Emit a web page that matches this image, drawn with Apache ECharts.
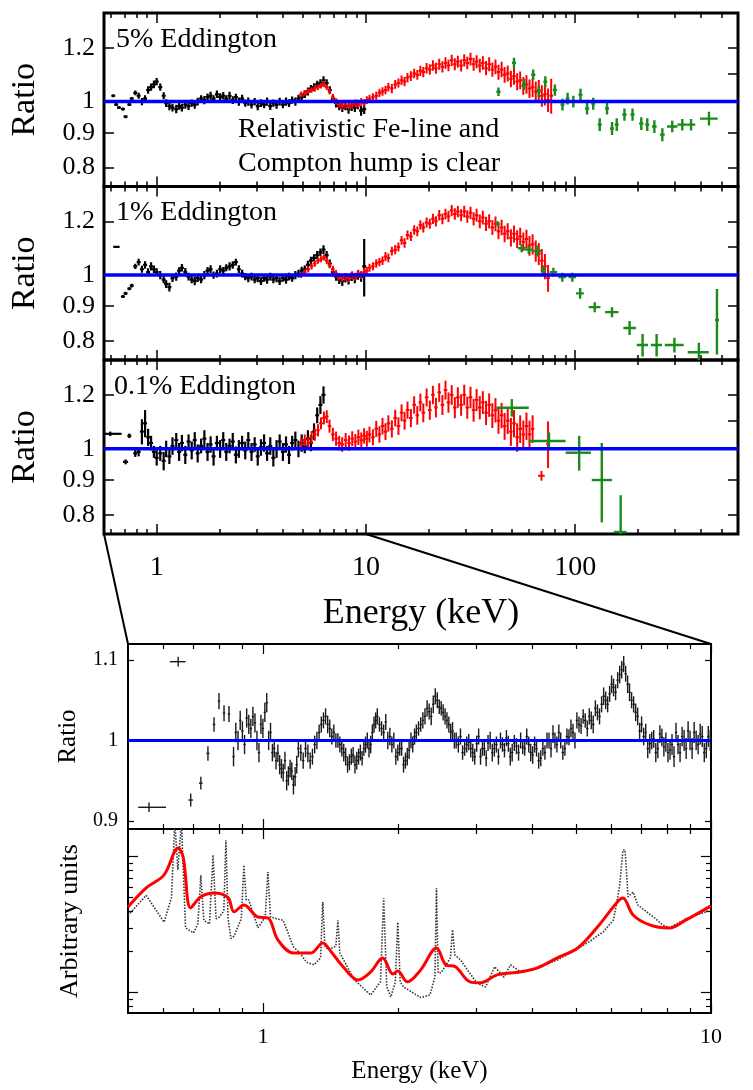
<!DOCTYPE html>
<html>
<head>
<meta charset="utf-8">
<script src="https://cdn.jsdelivr.net/npm/echarts@6/dist/echarts.min.js"></script>
<style>
html, body { margin: 0; background: #fff; }
#main { width: 753px; height: 1090px; }
</style>
</head>
<body>
<div id="main"></div>
<script>
var FONT = '"Liberation Serif", "Times New Roman", serif';

// ---- top panels: soft band (black), energies in keV
var softE = [0.62, 0.64, 0.66, 0.69, 0.71, 0.74, 0.76, 0.79, 0.82, 0.85, 0.88, 0.91, 0.94, 0.97, 1.00, 1.04, 1.08, 1.11, 1.15, 1.19,
    1.24, 1.28, 1.32, 1.37, 1.42, 1.47, 1.52, 1.57, 1.63, 1.69, 1.75, 1.81, 1.87, 1.94, 2.01, 2.08, 2.15, 2.23, 2.31, 2.39,
    2.47, 2.56, 2.65, 2.74, 2.84, 2.94, 3.04, 3.15, 3.26, 3.37, 3.49, 3.61, 3.74, 3.87, 4.01, 4.15, 4.29, 4.44, 4.60, 4.76,
    4.93, 5.10, 5.28, 5.46, 5.65, 5.85, 6.06, 6.27, 6.49, 6.72, 6.95, 7.20, 7.45, 7.71, 7.98, 8.26, 8.55, 8.85, 9.16, 9.48, 9.81];

var soft5 = [1.02, 0.99, 0.98, 0.975, 0.95, 0.99, 1.01, 1.03, 1.02, 1.0, 1.01, 1.04, 1.05, 1.06, 1.07, 1.05, 1.02, 0.995, 0.985, 0.98,
    0.975, 0.985, 0.98, 0.99, 0.985, 0.995, 0.99, 1.0, 1.01, 1.005, 1.015, 1.02, 1.01, 1.025, 1.015, 1.02, 1.01, 1.02, 1.005, 1.015,
    1.0, 1.01, 0.995, 1.0, 0.99, 1.0, 0.985, 0.995, 0.99, 1.0, 0.985, 0.995, 0.99, 1.0, 0.99, 1.0, 0.995, 1.005, 1.0, 1.01,
    1.015, 1.025, 1.035, 1.045, 1.05, 1.06, 1.065, 1.075, 1.065, 1.04, 1.01, 0.995, 0.985, 0.98, 0.985, 0.975, 0.985, 0.98, 0.99, 0.97, 0.975];
var soft5Err = [.005, .005, .005, .005, .005, .005, .006, .008, .01, .012, .012, .013, .013, .014, .013, .013, .012, .013, .014, .013,
    .014, .012, .013, .014, .013, .012, .014, .013, .012, .014, .013, .014, .012, .013, .014, .013, .012, .014, .013, .012,
    .014, .013, .012, .014, .013, .012, .014, .013, .012, .014, .013, .012, .014, .013, .012, .014, .013, .012, .014, .013,
    .014, .013, .014, .013, .014, .013, .014, .015, .014, .013, .014, .015, .014, .015, .014, .015, .016, .015, .016, .017, .016];

var soft1 = [null, null, null, 0.93, 0.94, 0.955, 0.965, 1.03, 1.045, 1.02, 1.035, 1.01, 1.03, 1.02, 1.01, 1.0, 0.985, 0.97, 0.96, 0.99,
    0.995, 1.015, 1.025, 1.01, 0.995, 0.985, 0.98, 0.99, 0.985, 1.0, 1.015, 1.02, 1.0, 1.005, 1.02, 1.015, 1.025, 1.03, 1.035, 1.045,
    1.02, 1.005, 0.995, 0.99, 0.995, 0.985, 0.99, 0.98, 0.99, 0.985, 0.995, 0.985, 0.99, 0.98, 0.99, 0.985, 0.995, 0.99, 1.0, 1.005,
    1.015, 1.02, 1.035, 1.05, 1.06, 1.07, 1.08, 1.09, 1.07, 1.04, 1.01, 0.995, 0.985, 0.98, 0.99, 0.985, 0.995, 0.99, 1.0, 0.995, 1.03];
var soft1Err = [.005, .004, .005, .005, .005, .005, .006, .009, .012, .012, .013, .013, .014, .013, .013, .014, .012, .013, .014, .013,
    .014, .012, .013, .014, .013, .012, .014, .013, .012, .014, .013, .014, .012, .013, .014, .013, .012, .014, .013, .012,
    .014, .013, .012, .014, .013, .012, .014, .013, .012, .014, .013, .012, .014, .013, .012, .014, .013, .012, .014, .013,
    .014, .013, .015, .014, .013, .015, .014, .016, .015, .014, .015, .014, .015, .016, .015, .016, .015, .017, .016, .017, .1];

var soft01 = [null, null, null, null, null, 1.045, null, 0.985, 0.99, 1.06, 1.09, 1.04, 1.02, 0.99, 0.97, 0.985, 0.96, 1.0, 0.975, 1.01,
    1.03, 0.99, 1.02, 0.98, 1.025, 0.995, 1.03, 0.985, 1.01, 1.035, 0.99, 1.015, 0.975, 1.02, 1.0, 1.03, 0.99, 1.01, 1.025, 0.98,
    1.0, 1.02, 0.995, 1.03, 0.99, 1.015, 0.975, 1.005, 1.02, 0.985, 1.01, 0.97, 1.0, 1.025, 0.99, 1.015, 0.98, 1.02, 1.03, 1.0,
    1.02, 1.01, 1.035, 1.02, 1.06, 1.12, 1.16, 1.2, null, null, null, null, null, null, null, null, null, null, null, null, null];
var soft01Err = [.01, .01, .01, .01, .008, .008, .01, .012, .015, .045, .05, .03, .025, .02, .025, .025, .03, .028, .025, .03,
    .025, .03, .028, .03, .025, .03, .028, .03, .025, .03, .03, .028, .03, .025, .03, .028, .03, .025, .03, .028,
    .03, .025, .03, .028, .03, .025, .03, .028, .03, .025, .03, .028, .03, .025, .03, .028, .03, .025, .03, .028,
    .03, .025, .03, .028, .03, .03, .035, .035, .03, .03, .03, .03, .03, .03, .03, .03, .03, .03, .03, .03, .03];

// wide-binned soft points: [E, ratio, err, Elo, Ehi]
var soft1Wide = [[0.64, 1.10, 0.004, 0.62, 0.665]];
var soft01Wide = [[0.6, 1.052, 0.008, 0.565, 0.68], [0.71, 0.957, 0.008, 0.69, 0.73]];

// ---- top panels: hard band (red)
var hardE = [4.9, 5.1, 5.3, 5.5, 5.7, 5.9, 6.1, 6.3, 6.5, 6.7, 6.95, 7.2, 7.45, 7.7, 8.0, 8.3, 8.6, 8.9, 9.2, 9.5,
    9.8, 10.1, 10.4, 10.8, 11.2, 11.6, 12.0, 12.4, 12.8, 13.3, 13.8, 14.3, 14.8, 15.3, 15.8, 16.4, 17.0, 17.6, 18.2, 18.8,
    19.5, 20.2, 20.9, 21.6, 22.4, 23.2, 24.0, 24.8, 25.7, 26.6, 27.5, 28.5, 29.5, 30.5, 31.6, 32.7, 33.8, 35.0, 36.2, 37.5,
    38.8, 40.2, 41.6, 43.0, 44.5, 46.0, 47.6, 49.3, 51.0, 52.8, 54.6, 56.5, 58.5, 60.5, 62.6, 64.8, 67.0, 69.3, 71.7, 74.2, 76.8];

var hard5 = [1.025, 1.03, 1.035, 1.04, 1.045, 1.05, 1.055, 1.06, 1.05, 1.035, 1.015, 1.0, 0.99, 0.985, 0.99, 0.985, 0.99, 0.995, 0.99, 1.0,
    0.995, 1.005, 1.01, 1.015, 1.02, 1.03, 1.035, 1.04, 1.05, 1.045, 1.06, 1.065, 1.075, 1.07, 1.085, 1.09, 1.1, 1.095, 1.11, 1.105,
    1.12, 1.115, 1.13, 1.12, 1.135, 1.125, 1.14, 1.13, 1.15, 1.135, 1.145, 1.13, 1.15, 1.14, 1.155, 1.135, 1.145, 1.13, 1.14, 1.12,
    1.135, 1.115, 1.125, 1.105, 1.115, 1.095, 1.1, 1.08, 1.09, 1.07, 1.075, 1.055, 1.06, 1.045, 1.05, 1.035, 1.04, 1.02, 1.025, 1.005, 1.02];
var hard5Err = [.01, .01, .01, .01, .01, .01, .01, .01, .01, .01, .011, .011, .011, .011, .011, .011, .012, .012, .012, .012,
    .013, .013, .013, .014, .014, .014, .015, .015, .015, .016, .016, .016, .017, .017, .017, .018, .018, .018, .019, .019,
    .02, .02, .02, .021, .021, .021, .022, .022, .022, .023, .023, .023, .024, .024, .025, .025, .025, .026, .026, .027,
    .027, .027, .028, .028, .029, .029, .03, .03, .031, .031, .032, .032, .033, .033, .034, .035, .036, .037, .038, .04, .06];

var hard1 = [1.0, 1.01, 1.02, 1.03, 1.04, 1.05, 1.055, 1.062, 1.05, 1.035, 1.02, 1.005, 0.995, 0.99, 0.995, 0.99, 1.0, 0.995, 1.005, 1.0,
    1.01, 1.015, 1.025, 1.03, 1.04, 1.045, 1.05, 1.065, 1.06, 1.085, 1.09, 1.1, 1.125, 1.115, 1.145, 1.14, 1.165, 1.16, 1.185, 1.175,
    1.195, 1.19, 1.21, 1.2, 1.225, 1.21, 1.23, 1.22, 1.245, 1.23, 1.24, 1.225, 1.24, 1.22, 1.235, 1.21, 1.225, 1.2, 1.215, 1.19,
    1.2, 1.175, 1.19, 1.16, 1.175, 1.15, 1.16, 1.135, 1.15, 1.13, 1.14, 1.12, 1.13, 1.105, 1.11, 1.085, 1.075, 1.05, 1.03, 0.99, null];
var hard1Err = [.01, .01, .011, .011, .011, .011, .011, .011, .012, .012, .012, .012, .012, .012, .012, .012, .013, .013, .013, .013,
    .014, .014, .014, .014, .015, .015, .015, .016, .016, .016, .017, .017, .017, .018, .018, .018, .019, .019, .019, .02,
    .02, .02, .021, .021, .022, .022, .022, .023, .023, .024, .024, .025, .025, .026, .026, .027, .027, .028, .028, .029,
    .029, .03, .03, .031, .031, .032, .032, .033, .033, .034, .034, .035, .036, .037, .038, .039, .04, .042, .044, .045, .05];

var hard01 = [1.015, 1.03, 1.02, 1.04, 1.05, 1.065, 1.09, 1.11, 1.115, 1.08, 1.05, 1.035, 1.02, 1.015, 1.03, 1.02, 1.035, 1.025, 1.04, 1.03,
    1.045, 1.035, 1.05, 1.04, 1.07, 1.05, 1.08, 1.06, 1.09, 1.07, 1.11, 1.08, 1.13, 1.1, 1.14, 1.11, 1.16, 1.12, 1.17, 1.13,
    1.19, 1.14, 1.2, 1.15, 1.21, 1.16, 1.22, 1.17, 1.2, 1.15, 1.19, 1.16, 1.2, 1.15, 1.19, 1.14, 1.18, 1.15, 1.17, 1.13,
    1.16, 1.12, 1.14, 1.1, 1.12, 1.08, 1.1, 1.06, 1.09, 1.04, 1.07, 1.05, 1.08, 1.05, 1.07, null, null, null, null, 1.017, null];
var hard01Err = [.02, .02, .02, .022, .022, .022, .022, .024, .024, .024, .024, .025, .025, .025, .025, .026, .026, .026, .027, .027,
    .027, .028, .028, .028, .029, .029, .03, .03, .03, .031, .031, .032, .032, .033, .033, .034, .034, .035, .035, .036,
    .036, .037, .037, .038, .038, .039, .039, .04, .04, .041, .041, .042, .042, .043, .043, .044, .044, .045, .045, .046,
    .046, .047, .047, .048, .048, .049, .049, .05, .05, .05, .05, .05, .05, .05, .05, .05, .05, .05, .05, .08, .05];
var hard01Wide = [[69.0, 0.913, 0.015, 66.5, 71.5]];

// ---- top panels: BAT points (green) [E, ratio, err, Elo, Ehi]
var bat5 = [[43, 1.034, 0.015, 42, 44], [51, 1.14, 0.02, 50, 52], [57, 1.06, 0.02, 56, 58], [63, 1.095, 0.02, 62, 64.5],
    [67, 1.035, 0.02, 66, 68], [72, 1.07, 0.02, 71, 73], [80, 1.04, 0.02, 79, 81.5], [87, 0.99, 0.02, 85.5, 88.5],
    [92, 1.01, 0.02, 90.5, 93.5], [98, 1.0, 0.02, 96, 100], [106, 1.024, 0.02, 104, 108], [114, 0.977, 0.02, 112, 116],
    [122, 0.993, 0.02, 120, 124], [131, 0.925, 0.02, 129, 134], [142, 0.977, 0.02, 139, 145], [150, 0.913, 0.02, 147, 153],
    [158, 0.925, 0.02, 155, 161], [172, 0.957, 0.02, 168, 176], [188, 0.957, 0.02, 184, 192], [207, 0.928, 0.02, 202, 212],
    [221, 0.925, 0.02, 216, 226], [239, 0.919, 0.02, 233, 245], [261, 0.894, 0.02, 254, 268], [291, 0.919, 0.018, 275, 308],
    [325, 0.925, 0.018, 308, 343], [358, 0.925, 0.018, 343, 375], [436, 0.944, 0.022, 395, 480]];
var bat1 = [[42.7, 1.19, 0.01, 42, 43.5], [55.5, 1.095, 0.015, 53.2, 58], [60, 1.09, 0.015, 57.5, 62.7], [66, 1.085, 0.02, 63, 69],
    [70.5, 1.017, 0.015, 68.5, 72.5], [78.7, 1.01, 0.015, 75.5, 82], [86.8, 0.993, 0.015, 83, 90.5], [96.9, 0.993, 0.015, 93, 101],
    [105.6, 0.94, 0.017, 101, 110], [124, 0.897, 0.015, 116, 132], [150, 0.882, 0.015, 139, 161], [182, 0.836, 0.02, 170, 195],
    [210, 0.789, 0.03, 197, 223], [245, 0.789, 0.03, 230, 260], [298, 0.789, 0.02, 268, 330], [390, 0.77, 0.025, 345, 435],
    [476, 0.859, 0.095, 470, 482]];
var bat01 = [[49.8, 1.149, 0.034, 42, 60], [75, 1.027, 0.03, 60, 90], [104.5, 0.987, 0.058, 90, 119],
    [134, 0.9, 0.12, 120, 150], [165, 0.755, 0.1, 153, 176]];

// ---- zoomed ratio panel (0.5-10 keV)
var zoomWide = [[0.557, 0.917, 0.006, 0.527, 0.608], [0.647, 1.098, 0.006, 0.62, 0.672], [0.69, 0.926, 0.008, 0.682, 0.698],
    [0.727, 0.947, 0.008, 0.72, 0.734], [0.754, 0.984, 0.009, 0.748, 0.76], [0.778, 1.02, 0.009, 0.773, 0.783],
    [0.798, 1.049, 0.01, 0.793, 0.803], [0.819, 1.034, 0.01, 0.814, 0.824], [0.84, 1.033, 0.01, 0.835, 0.845]];
var zoomE = [0.86, 0.88, 0.90, 0.92, 0.94, 0.96, 0.98, 1.00, 1.02, 1.04, 1.06, 1.08, 1.10, 1.12, 1.14, 1.16, 1.18, 1.20, 1.23, 1.26,
    1.29, 1.32, 1.35, 1.38, 1.41, 1.44, 1.47, 1.50, 1.53, 1.56, 1.59, 1.62, 1.65, 1.68, 1.71, 1.74, 1.77, 1.80, 1.84, 1.88,
    1.92, 1.96, 2.00, 2.04, 2.08, 2.12, 2.16, 2.20, 2.25, 2.30, 2.35, 2.40, 2.45, 2.50, 2.55, 2.60, 2.65, 2.70, 2.76, 2.82,
    2.88, 2.94, 3.00, 3.06, 3.12, 3.18, 3.25, 3.32, 3.39, 3.46, 3.53, 3.60, 3.68, 3.76, 3.84, 3.92, 4.00, 4.08, 4.17, 4.26,
    4.35, 4.44, 4.53, 4.62, 4.72, 4.82, 4.92, 5.02, 5.13, 5.24, 5.35, 5.46, 5.58, 5.70, 5.82, 5.94, 6.06, 6.19, 6.32, 6.45,
    6.58, 6.72, 6.86, 7.00, 7.15, 7.30, 7.45, 7.61, 7.77, 7.93, 8.10, 8.27, 8.44, 8.62, 8.80, 8.98, 9.17, 9.36, 9.56, 9.76, 9.96];
var zoomR = [0.98, 1.0, 1.012, 1.028, 1.015, 1.022, 0.985, 1.015, 1.047, 1.01, 0.99, 0.984, 0.965, 0.975, 0.956, 0.962, 0.955, 0.99, 0.975, 0.984,
    0.98, 1.0, 1.02, 1.03, 1.015, 1.01, 1.0, 0.99, 0.98, 0.973, 0.982, 0.975, 0.985, 0.99, 1.0, 0.995, 1.02, 1.03, 1.015, 1.023,
    1.005, 1.0, 0.985, 0.99, 0.975, 0.988, 0.995, 1.01, 1.02, 1.03, 1.036, 1.045, 1.05, 1.04, 1.03, 1.02, 1.012, 1.0, 1.005, 0.99,
    0.998, 0.985, 0.996, 0.98, 0.99, 0.997, 0.985, 0.995, 1.0, 0.988, 0.996, 0.985, 0.993, 1.0, 0.99, 0.995, 0.982, 0.99, 0.978, 0.985,
    1.0, 1.008, 0.995, 1.0, 0.99, 1.004, 1.01, 1.025, 1.018, 1.025, 1.03, 1.02, 1.035, 1.045, 1.05, 1.058, 1.066, 1.075, 1.088, 1.083,
    1.06, 1.045, 1.03, 1.02, 1.01, 0.996, 1.002, 0.99, 1.004, 0.998, 0.988, 0.98, 0.995, 1.005, 0.99, 1.0, 1.01, 0.995, 1.005, 0.99, 1.0];
var zoomErr = [.012, .012, .012, .012, .012, .012, .012, .012, .012, .012, .011, .011, .012, .011, .012, .011, .012, .011, .01, .011,
    .01, .011, .01, .01, .011, .01, .009, .01, .011, .01, .01, .011, .01, .009, .01, .011, .01, .01, .009, .01,
    .011, .01, .01, .009, .01, .011, .01, .01, .009, .01, .01, .011, .01, .009, .01, .01, .011, .01, .01, .009,
    .01, .011, .01, .01, .009, .01, .011, .01, .01, .009, .01, .011, .01, .01, .009, .01, .011, .01, .01, .009,
    .01, .011, .01, .01, .009, .01, .011, .01, .01, .009, .01, .011, .01, .01, .011, .01, .011, .01, .011, .01,
    .011, .01, .011, .01, .011, .012, .011, .012, .011, .012, .012, .013, .012, .012, .013, .012, .013, .012, .013, .012, .013];
// second interleaved set of zoomed-panel bins
var zoomE2 = [0.87, 0.89, 0.91, 0.93, 0.95, 0.97, 0.99, 1.01, 1.03, 1.05, 1.07, 1.09, 1.11, 1.13, 1.15, 1.17, 1.19, 1.215, 1.245, 1.275,
    1.305, 1.335, 1.365, 1.395, 1.425, 1.455, 1.485, 1.515, 1.545, 1.575, 1.605, 1.635, 1.665, 1.695, 1.725, 1.755, 1.785, 1.82, 1.86, 1.90,
    1.94, 1.98, 2.02, 2.06, 2.10, 2.14, 2.18, 2.225, 2.275, 2.325, 2.375, 2.425, 2.475, 2.525, 2.575, 2.625, 2.675, 2.73, 2.79, 2.85,
    2.91, 2.97, 3.03, 3.09, 3.15, 3.215, 3.285, 3.355, 3.425, 3.495, 3.565, 3.64, 3.72, 3.80, 3.88, 3.96, 4.04, 4.125, 4.215, 4.305,
    4.395, 4.485, 4.575, 4.67, 4.77, 4.87, 4.97, 5.075, 5.185, 5.295, 5.405, 5.52, 5.64, 5.76, 5.88, 6.0, 6.125, 6.255, 6.385, 6.515,
    6.65, 6.79, 6.93, 7.075, 7.225, 7.375, 7.53, 7.69, 7.85, 8.015, 8.185, 8.355, 8.53, 8.71, 8.89, 9.075, 9.265, 9.46, 9.66, 9.86];
var zoomR2 = [1.01, 1.025, 0.995, 1.02, 1.03, 1.0, 1.02, 1.035, 1.0, 0.985, 0.975, 0.97, 0.96, 0.95, 0.965, 0.945, 0.97, 0.985, 0.99, 0.975,
    0.995, 1.01, 1.025, 1.02, 1.005, 1.0, 0.995, 0.985, 0.97, 0.98, 0.97, 0.98, 0.978, 0.995, 0.99, 1.01, 1.025, 1.02, 1.01, 1.0,
    0.995, 0.98, 0.99, 0.97, 0.98, 1.0, 1.005, 1.015, 1.025, 1.04, 1.03, 1.055, 1.042, 1.035, 1.025, 1.01, 1.0, 0.995, 0.985, 0.995,
    0.99, 0.98, 1.005, 0.99, 0.978, 1.0, 0.99, 0.98, 0.995, 1.003, 0.98, 0.997, 0.985, 0.992, 1.005, 0.985, 0.995, 0.975, 0.99, 1.0,
    0.99, 1.0, 1.01, 0.985, 1.005, 1.015, 1.0, 1.02, 1.03, 1.015, 1.025, 1.04, 1.03, 1.055, 1.045, 1.07, 1.06, 1.082, 1.095, 1.07,
    1.05, 1.035, 1.012, 1.005, 0.99, 1.0, 0.985, 1.008, 0.992, 0.985, 0.995, 1.01, 0.985, 1.0, 1.012, 0.99, 1.0, 1.008, 0.985, 1.005];
var zoomErr2 = [.012, .012, .012, .012, .012, .012, .012, .012, .012, .011, .011, .012, .011, .012, .011, .012, .011, .01, .011, .01,
    .011, .01, .01, .011, .01, .009, .01, .011, .01, .01, .011, .01, .009, .01, .011, .01, .01, .009, .01, .011,
    .01, .01, .009, .01, .011, .01, .01, .009, .01, .01, .011, .01, .009, .01, .01, .011, .01, .01, .009, .01,
    .011, .01, .01, .009, .01, .011, .01, .01, .009, .01, .011, .01, .01, .009, .01, .011, .01, .01, .009, .01,
    .011, .01, .01, .009, .01, .011, .01, .01, .009, .01, .011, .01, .01, .011, .01, .011, .01, .011, .01, .011,
    .01, .011, .01, .011, .012, .011, .012, .011, .012, .012, .013, .012, .012, .013, .012, .013, .012, .013, .012, .013];

// ---- model panel (arbitrary units)
var modelE = [0.5, 0.549, 0.602, 0.647, 0.664, 0.69, 0.727, 0.778, 0.836, 0.862, 0.907, 0.975, 1.026, 1.08, 1.17, 1.28, 1.36, 1.42, 1.51, 1.63,
    1.74, 1.85, 1.95, 2.0, 2.1, 2.25, 2.44, 2.56, 2.69, 2.9, 3.06, 3.33, 3.75, 4.1, 4.54, 5.04, 5.58, 6.18, 6.36, 6.7, 7.3, 8.07, 8.8, 10];
var modelBlurred = [4.27, 5.9, 7.35, 11.6, 9.9, 4.2, 5.07, 5.42, 5.0, 3.93, 4.42, 3.6, 3.55, 2.44, 1.96, 1.96, 2.32, 2.0, 1.55, 1.24,
    1.42, 1.8, 1.37, 1.44, 1.2, 1.47, 2.13, 1.6, 1.55, 1.2, 1.18, 1.35, 1.42, 1.52, 1.8, 2.13, 3.04, 4.65, 4.97, 3.73, 3.15, 2.99, 3.43, 4.35];
var lineE = [0.5, 0.549, 0.602, 0.625, 0.636, 0.64, 0.646, 0.652, 0.658, 0.664, 0.672, 0.70, 0.716, 0.727, 0.738, 0.76, 0.774, 0.786, 0.80, 0.818,
    0.827, 0.836, 0.849, 0.862, 0.895, 0.907, 0.918, 0.93, 0.975, 1.012, 1.026, 1.04, 1.05, 1.11, 1.17, 1.21, 1.25, 1.3, 1.345, 1.36,
    1.375, 1.4, 1.455, 1.47, 1.485, 1.6, 1.74, 1.83, 1.86, 1.89, 1.93, 1.975, 2.0, 2.025, 2.06, 2.25, 2.36, 2.42, 2.44, 2.46,
    2.5, 2.62, 2.65, 2.68, 2.76, 2.86, 3.0, 3.14, 3.29, 3.45, 3.57, 3.79, 4.1, 4.54, 4.86, 5.3, 5.75, 6.06, 6.25, 6.36,
    6.43, 6.5, 6.53, 6.7, 6.87, 7.44, 7.8, 8.07, 8.8, 10];
var lineSharp = [3.7, 5.2, 3.3, 5.0, 18, 18, 8, 8, 18, 18, 3.0, 2.75, 3.2, 7.3, 3.4, 3.2, 10.3, 3.5, 3.6, 4.0,
    13.2, 3.5, 2.5, 2.6, 3.5, 8.7, 4.8, 4.8, 3.0, 3.6, 7.7, 3.6, 3.6, 3.4, 2.17, 1.96, 1.68, 1.6, 1.8, 4.65,
    2.2, 2.06, 2.2, 3.4, 1.96, 1.24, 0.96, 1.2, 4.97, 1.1, 0.93, 1.2, 3.3, 1.2, 1.1, 0.92, 0.96, 1.3, 5.86, 1.4,
    1.4, 1.8, 2.9, 1.9, 1.74, 1.47, 1.18, 1.1, 1.55, 1.3, 1.6, 1.4, 1.52, 1.74, 1.96, 2.32, 2.8, 3.43, 6.0, 11.2,
    11.2, 6.5, 5.07, 5.5, 4.4, 3.6, 3.15, 3.0, 3.5, 4.05];

// axis ranges and ticks
var topX = [0.56, 600], topY = [0.75, 1.35];
var lowX = [0.5, 10], lowRatioY = [0.89, 1.12], modelY = [0.708, 16];
var topMinor = [0.6, 0.7, 0.8, 0.9, 2, 3, 4, 5, 6, 7, 8, 9, 20, 30, 40, 50, 60, 70, 80, 90, 200, 300, 400, 500];
var topMajor = [1, 10, 100];
var ratioTicks = [0.8, 0.9, 1, 1.1, 1.2];
var lowMinor = [0.6, 0.7, 0.8, 0.9, 2, 3, 4, 5, 6, 7, 8, 9];
var lowMajor = [1, 10];
var lowRatioTicks = [0.9, 1, 1.1];
var modelMinor = [0.8, 0.9, 2, 3, 4, 5, 6, 7, 8, 9];
var modelMajor = [1, 10];

var lg = Math.log10;
function lgs(a) { return a.map(lg); }
function same(v) { return v; }

function item(e, r, dr, elo, ehi, fy) {
    return [lg(e), fy(r), fy(r - dr), fy(r + dr), lg(elo), lg(ehi)];
}
function gridPts(E, R, err, fy) {
    var out = [];
    for (var i = 0; i < E.length; i++) {
        if (R[i] == null) continue;
        out.push(item(E[i], R[i], err[i], E[i], E[i], fy));
    }
    return out;
}
function widePts(list, fy) {
    return list.map(function (p) { return item(p[0], p[1], p[2], p[3], p[4], fy); });
}

function bars(color, width, cap) {
    return function (params, api) {
        var c = api.coord([api.value(0), api.value(1)]);
        var lo = api.coord([api.value(0), api.value(2)]);
        var hi = api.coord([api.value(0), api.value(3)]);
        var l = api.coord([api.value(4), api.value(1)]);
        var r = api.coord([api.value(5), api.value(1)]);
        var x1 = Math.min(l[0], c[0] - cap), x2 = Math.max(r[0], c[0] + cap);
        return {
            type: 'group', children: [
                {type: 'line', shape: {x1: c[0], y1: lo[1], x2: c[0], y2: hi[1]}, style: {stroke: color, lineWidth: width}},
                {type: 'line', shape: {x1: x1, y1: c[1], x2: x2, y2: c[1]}, style: {stroke: color, lineWidth: width}}
            ]
        };
    };
}

var xAxes = [], yAxes = [], series = [];

function logFmt(v) { return String(Math.round(Math.pow(10, v) * 100) / 100); }
function linFmt(v) { return String(Math.round(v * 100) / 100); }

function tickAxis(list, o) {
    var ax = {
        type: 'value', gridIndex: o.grid, position: o.pos, min: o.min, max: o.max,
        axisLine: {show: false, onZero: false},
        splitLine: {show: false},
        axisTick: {show: true, inside: true, length: o.len, customValues: o.ticks, lineStyle: {color: '#000', width: o.w || 1.5}},
        axisLabel: {show: false}
    };
    if (o.labels) {
        ax.axisLabel = {show: true, customValues: o.labels, formatter: o.fmt || logFmt, fontFamily: FONT,
            fontSize: o.fs, color: '#000', margin: o.margin, showMinLabel: true, showMaxLabel: true};
    }
    if (o.name) {
        ax.name = o.name;
        ax.nameLocation = 'middle';
        ax.nameGap = o.gap;
        ax.nameTextStyle = {fontFamily: FONT, fontSize: o.nfs, color: '#000'};
    }
    list.push(ax);
    return list.length - 1;
}

function errSeries(xi, yi, data, color, width, cap) {
    return {type: 'custom', xAxisIndex: xi, yAxisIndex: yi, data: data, renderItem: bars(color, width, cap),
        clip: true, silent: true};
}
function unity(xi, yi, x0, x1, yv, w) {
    return {type: 'line', xAxisIndex: xi, yAxisIndex: yi, data: [[x0, yv], [x1, yv]], symbol: 'none',
        lineStyle: {color: '#0000ff', width: w}, silent: true};
}

var grids = [
    {left: 101, right: 15, top: 13, height: 173.5, borderWidth: 3},
    {left: 101, right: 15, top: 186.5, height: 173.5, borderWidth: 3},
    {left: 101, right: 15, top: 360, height: 174, borderWidth: 3},
    {left: 128, right: 42, top: 644, height: 185, borderWidth: 2},
    {left: 128, right: 42, top: 829, height: 184, borderWidth: 2}
];
grids.forEach(function (g) { g.show = true; g.borderColor = '#000'; g.backgroundColor = 'transparent'; });

var panels = [
    {soft: soft5, softErr: soft5Err, softWide: [], hard: hard5, hardErr: hard5Err, hardWide: [], bat: bat5},
    {soft: soft1, softErr: soft1Err, softWide: soft1Wide, hard: hard1, hardErr: hard1Err, hardWide: [], bat: bat1},
    {soft: soft01, softErr: soft01Err, softWide: soft01Wide, hard: hard01, hardErr: hard01Err, hardWide: hard01Wide, bat: bat01}
];

var txMin = lg(topX[0]), txMax = lg(topX[1]), tyMin = lg(topY[0]), tyMax = lg(topY[1]);
var mainAx = [];
panels.forEach(function (p, g) {
    var last = g === 2;
    var xi = tickAxis(xAxes, {grid: g, pos: 'bottom', min: txMin, max: txMax, ticks: lgs(topMajor), len: 10,
        labels: last ? lgs(topMajor) : null, fs: 28, margin: 20,
        name: last ? 'Energy (keV)' : null, gap: 62, nfs: 36});
    tickAxis(xAxes, {grid: g, pos: 'bottom', min: txMin, max: txMax, ticks: lgs(topMinor), len: 5});
    tickAxis(xAxes, {grid: g, pos: 'top', min: txMin, max: txMax, ticks: lgs(topMajor), len: 10});
    tickAxis(xAxes, {grid: g, pos: 'top', min: txMin, max: txMax, ticks: lgs(topMinor), len: 5});
    var yi = tickAxis(yAxes, {grid: g, pos: 'left', min: tyMin, max: tyMax, ticks: lgs(ratioTicks), len: 10,
        labels: lgs(ratioTicks), fs: 26, margin: 9, name: 'Ratio', gap: 62, nfs: 34});
    tickAxis(yAxes, {grid: g, pos: 'right', min: tyMin, max: tyMax, ticks: lgs(ratioTicks), len: 10});
    mainAx.push([xi, yi]);

    series.push(errSeries(xi, yi, gridPts(softE, p.soft, p.softErr, lg).concat(widePts(p.softWide, lg)), '#000', 2.2, 2));
    series.push(unity(xi, yi, txMin, txMax, 0, 3.5));
    series.push(errSeries(xi, yi, gridPts(hardE, p.hard, p.hardErr, lg).concat(widePts(p.hardWide, lg)), '#ff0000', 2, 1.8));
    series.push(errSeries(xi, yi, widePts(p.bat, lg), '#1a8a1a', 2.4, 2));
});

// zoomed ratio panel
var lxMin = lg(lowX[0]), lxMax = lg(lowX[1]);
var zx = tickAxis(xAxes, {grid: 3, pos: 'bottom', min: lxMin, max: lxMax, ticks: lgs(lowMajor), len: 10, w: 1.2});
tickAxis(xAxes, {grid: 3, pos: 'bottom', min: lxMin, max: lxMax, ticks: lgs(lowMinor), len: 5, w: 1.2});
tickAxis(xAxes, {grid: 3, pos: 'top', min: lxMin, max: lxMax, ticks: lgs(lowMajor), len: 10, w: 1.2});
tickAxis(xAxes, {grid: 3, pos: 'top', min: lxMin, max: lxMax, ticks: lgs(lowMinor), len: 5, w: 1.2});
var zy = tickAxis(yAxes, {grid: 3, pos: 'left', min: lowRatioY[0], max: lowRatioY[1], ticks: lowRatioTicks, len: 6, w: 1.2,
    labels: lowRatioTicks, fmt: linFmt, fs: 20, margin: 10, name: 'Ratio', gap: 47, nfs: 25});
tickAxis(yAxes, {grid: 3, pos: 'right', min: lowRatioY[0], max: lowRatioY[1], ticks: lowRatioTicks, len: 6, w: 1.2});
series.push(errSeries(zx, zy, widePts(zoomWide, same).concat(gridPts(zoomE, zoomR, zoomErr, same),
    gridPts(zoomE2, zoomR2, zoomErr2, same)), '#1a1a1a', 1.4, 1.2));
series.push(unity(zx, zy, lxMin, lxMax, 1, 3));

// model panel
var myMin = lg(modelY[0]), myMax = lg(modelY[1]);
var mx = tickAxis(xAxes, {grid: 4, pos: 'bottom', min: lxMin, max: lxMax, ticks: lgs(lowMajor), len: 10, w: 1.2,
    labels: lgs(lowMajor), fs: 22, margin: 13, name: 'Energy (keV)', gap: 46, nfs: 25});
tickAxis(xAxes, {grid: 4, pos: 'bottom', min: lxMin, max: lxMax, ticks: lgs(lowMinor), len: 5, w: 1.2});
tickAxis(xAxes, {grid: 4, pos: 'top', min: lxMin, max: lxMax, ticks: lgs(lowMajor), len: 10, w: 1.2});
tickAxis(xAxes, {grid: 4, pos: 'top', min: lxMin, max: lxMax, ticks: lgs(lowMinor), len: 5, w: 1.2});
var my = tickAxis(yAxes, {grid: 4, pos: 'left', min: myMin, max: myMax, ticks: lgs(modelMajor), len: 10, w: 1.2,
    name: 'Arbitrary units', gap: 45, nfs: 26});
tickAxis(yAxes, {grid: 4, pos: 'left', min: myMin, max: myMax, ticks: lgs(modelMinor), len: 5, w: 1.2});
tickAxis(yAxes, {grid: 4, pos: 'right', min: myMin, max: myMax, ticks: lgs(modelMajor), len: 10, w: 1.2});
tickAxis(yAxes, {grid: 4, pos: 'right', min: myMin, max: myMax, ticks: lgs(modelMinor), len: 5, w: 1.2});

series.push({
    type: 'line', xAxisIndex: mx, yAxisIndex: my, symbol: 'none', silent: true,
    data: lineE.map(function (e, i) { return [lg(e), lg(lineSharp[i])]; }),
    lineStyle: {color: '#333', width: 1.6, type: [1.5, 1.5]}
});
series.push({
    type: 'line', xAxisIndex: mx, yAxisIndex: my, symbol: 'none', silent: true, smooth: 0.35,
    data: modelE.map(function (e, i) { return [lg(e), lg(modelBlurred[i])]; }),
    lineStyle: {color: '#ff0000', width: 3}
});

var chart = echarts.init(document.getElementById('main'));
chart.setOption({
    animation: false,
    backgroundColor: '#fff',
    grid: grids,
    xAxis: xAxes,
    yAxis: yAxes,
    series: series
});

// zoom connectors and panel captions
var a0 = chart.convertToPixel({xAxisIndex: mainAx[2][0], yAxisIndex: mainAx[2][1]}, [txMin, tyMin]);
var a1 = chart.convertToPixel({xAxisIndex: mainAx[2][0], yAxisIndex: mainAx[2][1]}, [lxMax, tyMin]);
var b0 = chart.convertToPixel({xAxisIndex: zx, yAxisIndex: zy}, [lxMin, lowRatioY[1]]);
var b1 = chart.convertToPixel({xAxisIndex: zx, yAxisIndex: zy}, [lxMax, lowRatioY[1]]);

function caption(text, x, y, size) {
    return {type: 'text', x: x, y: y, silent: true,
        style: {text: text, font: size + 'px ' + FONT, fill: '#000', verticalAlign: 'middle'}};
}
chart.setOption({
    graphic: [
        {type: 'line', silent: true, shape: {x1: a0[0], y1: a0[1], x2: b0[0], y2: b0[1]}, style: {stroke: '#000', lineWidth: 2}},
        {type: 'line', silent: true, shape: {x1: a1[0], y1: a1[1], x2: b1[0], y2: b1[1]}, style: {stroke: '#000', lineWidth: 2}},
        caption('5% Eddington', 116, 40, 28),
        caption('1% Eddington', 116, 213, 28),
        caption('0.1% Eddington', 114, 387, 28),
        caption('Relativistic Fe-line and', 238, 130, 28),
        caption('Compton hump is clear', 238, 164, 28)
    ]
});
</script>
</body>
</html>
